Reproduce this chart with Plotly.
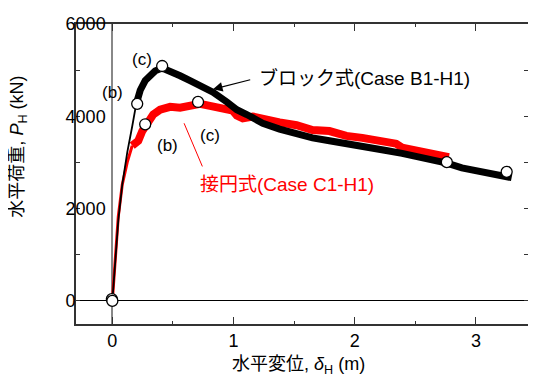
import plotly.graph_objects as go

FONT = "Liberation Sans, Arial, Noto Sans CJK JP, sans-serif"

# Block method (Case B1-H1) - black
black_rise_x = [0.0, 0.025, 0.049, 0.082, 0.123, 0.164, 0.197]
black_rise_y = [0, 904, 1746, 2524, 3218, 3785, 4269]
black_band_x = [0.197, 0.230, 0.271, 0.312, 0.353, 0.411, 0.477, 0.559, 0.641, 0.723, 0.830,
                0.945, 1.027, 1.109, 1.241, 1.380, 1.520, 1.652, 1.791, 1.931, 2.062, 2.202,
                2.260, 2.391, 2.531, 2.671, 2.761, 2.884, 3.024, 3.163, 3.295]
black_band_y = [4269, 4564, 4774, 4900, 4984, 5047, 4984, 4879, 4774, 4669, 4522,
                4311, 4143, 4038, 3849, 3722, 3617, 3533, 3470, 3407, 3365, 3323,
                3260, 3197, 3113, 3050, 2986, 2881, 2797, 2734, 2671]

# Tangent circle method (Case C1-H1) - red
red_rise_x = [0.0, 0.025, 0.049, 0.082, 0.123, 0.164]
red_rise_y = [0, 904, 1830, 2524, 3007, 3365]
red_band_x = [0.164, 0.214, 0.247, 0.288, 0.337, 0.394, 0.477, 0.559, 0.641, 0.723, 0.805,
              0.887, 0.994, 1.027, 1.076, 1.159, 1.241, 1.380, 1.520, 1.652, 1.791, 1.931,
              2.062, 2.202, 2.260, 2.342, 2.391, 2.531, 2.671, 2.777]
red_band_y = [3365, 3470, 3680, 3870, 4038, 4143, 4206, 4185, 4206, 4269, 4227,
              4185, 4122, 4017, 3954, 3996, 3933, 3869, 3806, 3701, 3680, 3575,
              3533, 3470, 3428, 3407, 3323, 3239, 3197, 3113]

# marked states (origin, (b), (c), end)
black_mark_x = [0.0, 0.205, 0.411, 3.254]
black_mark_y = [0, 4270, 5090, 2797]
red_mark_x = [-0.004, 0.271, 0.707, 2.76]
red_mark_y = [40, 3827, 4311, 3007]

x_ticks = [0, 1, 2, 3]
y_ticks = [0, 2000, 4000, 6000]
FS = "\u2007"  # figure space (digit width) keeps labels left-aligned
y_ticktext = ["0" + FS * 3, "2000", "4000", "6000"]

fig = go.Figure()
fig.add_trace(go.Scatter(x=red_rise_x, y=red_rise_y, mode="lines",
                         line=dict(color="#ff0000", width=3), showlegend=False))
fig.add_trace(go.Scatter(x=red_band_x, y=red_band_y, mode="lines",
                         line=dict(color="#ff0000", width=8), showlegend=False))
fig.add_trace(go.Scatter(x=black_rise_x, y=black_rise_y, mode="lines",
                         line=dict(color="#000000", width=1.8), showlegend=False))
fig.add_trace(go.Scatter(x=black_band_x, y=black_band_y, mode="lines",
                         line=dict(color="#000000", width=7), showlegend=False))
fig.add_trace(go.Scatter(x=red_mark_x + black_mark_x, y=red_mark_y + black_mark_y, mode="markers",
                         marker=dict(symbol="circle", size=11, color="white",
                                     line=dict(color="black", width=1.3)),
                         showlegend=False))

ann = []
ann.append(dict(x=1.19, y=4837, xref="x", yref="y", text="ブロック式(Case B1-H1)",
                showarrow=False, xanchor="left", yanchor="middle",
                font=dict(size=19, color="black", family=FONT)))
ann.append(dict(x=0.83, y=4585, ax=1.15, ay=4800, xref="x", yref="y", axref="x", ayref="y",
                text="", showarrow=True, arrowhead=2, arrowsize=1.6, arrowwidth=1.2,
                arrowcolor="black"))
ann.append(dict(x=0.707, y=2524, xref="x", yref="y", text="接円式(Case C1-H1)",
                showarrow=False, xanchor="left", yanchor="middle",
                font=dict(size=19, color="#ff0000", family=FONT)))
ann.append(dict(x=0.592, y=3849, ax=0.748, ay=2881, xref="x", yref="y", axref="x", ayref="y",
                text="", showarrow=True, arrowhead=0, arrowwidth=1, arrowcolor="#ff0000"))
for tx, ty, t in [(0.247, 5236, "(c)"), (0.0, 4522, "(b)"),
                  (0.452, 3365, "(b)"), (0.805, 3575, "(c)")]:
    ann.append(dict(x=tx, y=ty, xref="x", yref="y", text=t, showarrow=False,
                    xanchor="center", yanchor="middle",
                    font=dict(size=17, color="black", family=FONT)))
# axis titles
ann.append(dict(x=-0.126, y=3344, xref="paper", yref="y", text="水平荷重, <i>P</i><sub>H</sub> (kN)",
                textangle=-90, showarrow=False, xanchor="center", yanchor="middle",
                font=dict(size=18, color="black", family=FONT)))
ann.append(dict(x=0.492, y=-0.138, xref="paper", yref="paper", text="水平変位, <i>δ</i><sub>H</sub> (m)",
                showarrow=False, xanchor="center", yanchor="middle",
                font=dict(size=18, color="black", family=FONT)))

# page body has an 8px default margin: figure is 8px smaller and margins compensate
fig.update_layout(
    width=528, height=368,
    margin=dict(l=68, r=6, t=6, b=52),
    paper_bgcolor="white", plot_bgcolor="white",
    font=dict(family=FONT, size=17, color="black"),
    annotations=ann,
    xaxis=dict(range=[-0.3, 3.43], tickvals=x_ticks, ticktext=[str(v) for v in x_ticks],
               ticks="inside", ticklen=7, tickwidth=1, tickcolor="#333",
               minor=dict(dtick=0.5, ticks="inside", ticklen=3, tickcolor="#333", showgrid=False),
               showline=True, linecolor="#333", linewidth=1.5, mirror="ticks",
               showgrid=False, zeroline=True, zerolinecolor="#888", zerolinewidth=1.5,
               tickfont=dict(size=18)),
    yaxis=dict(range=[-500, 6000], tickvals=y_ticks, ticktext=y_ticktext,
               ticks="inside", ticklen=4, tickwidth=1, tickcolor="#333",
               minor=dict(dtick=1000, ticks="inside", ticklen=4, tickcolor="#333", showgrid=False),
               showline=True, linecolor="#333", linewidth=1.5, mirror="ticks",
               showgrid=False, zeroline=True, zerolinecolor="black", zerolinewidth=1,
               ticklabelstandoff=-35, ticklabeloverflow="allow",
               tickfont=dict(size=18)),
)

fig.write_html("out.html")
